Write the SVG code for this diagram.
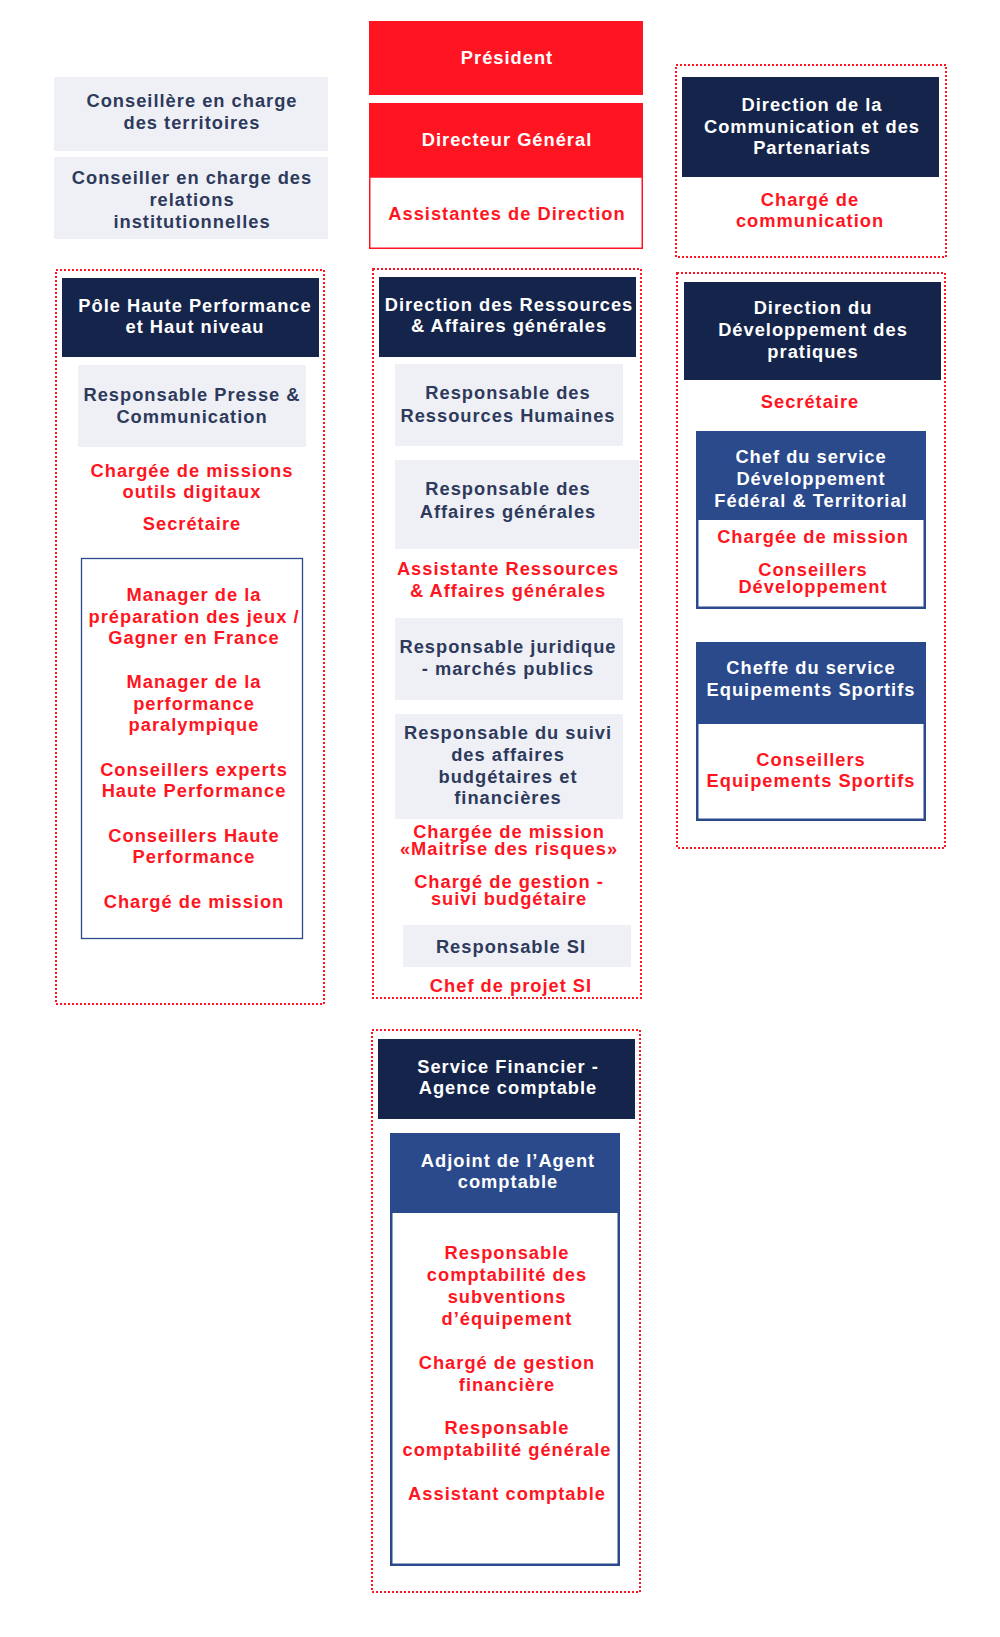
<svg xmlns="http://www.w3.org/2000/svg" width="1000" height="1637" viewBox="0 0 1000 1637">
<style>
.t{font-family:"Liberation Sans",Arial,Helvetica,sans-serif;font-weight:bold;font-size:18.3px;letter-spacing:1px;text-anchor:middle}
.w{fill:#ffffff}.r{fill:#ff1522}.g{fill:#2d3a5c}
.navy{fill:#15244b}.blue{fill:#2a4a8c}.gray{fill:#eff0f5}.red{fill:#ff1522}
.dot{fill:none;stroke:#ff1522;stroke-width:2;stroke-dasharray:2 2}
.bbox{fill:#ffffff;stroke:#2a4a8c;stroke-width:2.5}
.thin{fill:#ffffff;stroke:#2a4a8c;stroke-width:1.3}
</style>
<rect width="1000" height="1637" fill="#ffffff"/>

<g id="conseillere-territoires">
<rect class="gray" x="54" y="77" width="274" height="74"/>
<text class="t g" x="192" y="107">Conseillère en charge</text>
<text class="t g" x="192" y="129">des territoires</text>
</g>
<g id="conseiller-relations">
<rect class="gray" x="54" y="157" width="274" height="82"/>
<text class="t g" x="192" y="184">Conseiller en charge des</text>
<text class="t g" x="192" y="206">relations</text>
<text class="t g" x="192" y="228">institutionnelles</text>
</g>

<g id="president">
<rect class="red" x="369" y="21" width="274" height="74"/>
<text class="t w" x="507" y="64">Président</text>
</g>
<g id="directeur-general">
<rect class="red" x="369" y="103" width="274" height="74"/>
<text class="t w" x="507" y="146">Directeur Général</text>
<rect x="369.75" y="177" width="272.5" height="71.25" fill="#ffffff" stroke="#ff1522" stroke-width="1.5"/>
<text class="t r" x="507" y="220">Assistantes de Direction</text>
</g>

<g id="direction-communication">
<rect class="dot" x="676" y="65" width="270" height="192"/>
<rect class="navy" x="682" y="77" width="257" height="100"/>
<text class="t w" x="812" y="111">Direction de la</text>
<text class="t w" x="812" y="133">Communication et des</text>
<text class="t w" x="812" y="154">Partenariats</text>
<text class="t r" x="810" y="206">Chargé de</text>
<text class="t r" x="810" y="227">communication</text>
</g>

<g id="pole-haute-performance">
<rect class="dot" x="56" y="270" width="268" height="734"/>
<rect class="navy" x="62" y="278" width="257" height="79"/>
<text class="t w" x="195" y="312">Pôle Haute Performance</text>
<text class="t w" x="195" y="333">et Haut niveau</text>
<rect class="gray" x="78" y="365" width="228" height="82"/>
<text class="t g" x="192" y="401">Responsable Presse &amp;</text>
<text class="t g" x="192" y="423">Communication</text>
<text class="t r" x="192" y="477">Chargée de missions</text>
<text class="t r" x="192" y="498">outils digitaux</text>
<text class="t r" x="192" y="530">Secrétaire</text>
<rect class="thin" x="81.5" y="558.5" width="221" height="380"/>
<text class="t r" x="194" y="601">Manager de la</text>
<text class="t r" x="194" y="623">préparation des jeux /</text>
<text class="t r" x="194" y="644">Gagner en France</text>
<text class="t r" x="194" y="688">Manager de la</text>
<text class="t r" x="194" y="710">performance</text>
<text class="t r" x="194" y="731">paralympique</text>
<text class="t r" x="194" y="776">Conseillers experts</text>
<text class="t r" x="194" y="797">Haute Performance</text>
<text class="t r" x="194" y="842">Conseillers Haute</text>
<text class="t r" x="194" y="863">Performance</text>
<text class="t r" x="194" y="908">Chargé de mission</text>
</g>

<g id="direction-ressources">
<rect class="dot" x="373" y="269" width="268" height="729"/>
<rect class="navy" x="379" y="277" width="257" height="80"/>
<text class="t w" x="509" y="311">Direction des Ressources</text>
<text class="t w" x="509" y="332">&amp; Affaires générales</text>
<rect class="gray" x="395" y="364" width="228" height="82"/>
<text class="t g" x="508" y="399">Responsable des</text>
<text class="t g" x="508" y="422">Ressources Humaines</text>
<rect class="gray" x="395" y="460" width="244" height="89"/>
<text class="t g" x="508" y="495">Responsable des</text>
<text class="t g" x="508" y="518">Affaires générales</text>
<text class="t r" x="508" y="575">Assistante Ressources</text>
<text class="t r" x="508" y="597">&amp; Affaires générales</text>
<rect class="gray" x="395" y="618" width="228" height="82"/>
<text class="t g" x="508" y="653">Responsable juridique</text>
<text class="t g" x="508" y="675">- marchés publics</text>
<rect class="gray" x="395" y="714" width="228" height="105"/>
<text class="t g" x="508" y="739">Responsable du suivi</text>
<text class="t g" x="508" y="761">des affaires</text>
<text class="t g" x="508" y="783">budgétaires et</text>
<text class="t g" x="508" y="804">financières</text>
<text class="t r" x="509" y="838">Chargée de mission</text>
<text class="t r" x="509" y="855">«Maitrise des risques»</text>
<text class="t r" x="509" y="888">Chargé de gestion -</text>
<text class="t r" x="509" y="905">suivi budgétaire</text>
<rect class="gray" x="403" y="925" width="228" height="42"/>
<text class="t g" x="511" y="953">Responsable SI</text>
<text class="t r" x="511" y="992">Chef de projet SI</text>
</g>

<g id="direction-developpement">
<rect class="dot" x="677" y="273" width="268" height="575"/>
<rect class="navy" x="684" y="282" width="257" height="98"/>
<text class="t w" x="813" y="314">Direction du</text>
<text class="t w" x="813" y="336">Développement des</text>
<text class="t w" x="813" y="358">pratiques</text>
<text class="t r" x="810" y="408">Secrétaire</text>
</g>
<g id="chef-service-developpement">
<rect class="bbox" x="697.25" y="432.25" width="227.5" height="175.5"/>
<rect class="blue" x="696" y="431" width="230" height="89"/>
<text class="t w" x="811" y="463">Chef du service</text>
<text class="t w" x="811" y="485">Développement</text>
<text class="t w" x="811" y="507">Fédéral &amp; Territorial</text>
<text class="t r" x="813" y="543">Chargée de mission</text>
<text class="t r" x="813" y="576">Conseillers</text>
<text class="t r" x="813" y="593">Développement</text>
</g>
<g id="cheffe-service-equipements">
<rect class="bbox" x="697.25" y="643.25" width="227.5" height="176.5"/>
<rect class="blue" x="696" y="642" width="230" height="82"/>
<text class="t w" x="811" y="674">Cheffe du service</text>
<text class="t w" x="811" y="696">Equipements Sportifs</text>
<text class="t r" x="811" y="766">Conseillers</text>
<text class="t r" x="811" y="787">Equipements Sportifs</text>
</g>

<g id="service-financier">
<rect class="dot" x="372" y="1030" width="268" height="562"/>
<rect class="navy" x="378" y="1039" width="257" height="80"/>
<text class="t w" x="508" y="1073">Service Financier -</text>
<text class="t w" x="508" y="1094">Agence comptable</text>
</g>
<g id="adjoint-agent-comptable">
<rect class="bbox" x="391.25" y="1134.25" width="227.5" height="430.5"/>
<rect class="blue" x="390" y="1133" width="230" height="80"/>
<text class="t w" x="508" y="1167">Adjoint de l’Agent</text>
<text class="t w" x="508" y="1188">comptable</text>
<text class="t r" x="507" y="1259">Responsable</text>
<text class="t r" x="507" y="1281">comptabilité des</text>
<text class="t r" x="507" y="1303">subventions</text>
<text class="t r" x="507" y="1325">d’équipement</text>
<text class="t r" x="507" y="1369">Chargé de gestion</text>
<text class="t r" x="507" y="1391">financière</text>
<text class="t r" x="507" y="1434">Responsable</text>
<text class="t r" x="507" y="1456">comptabilité générale</text>
<text class="t r" x="507" y="1500">Assistant comptable</text>
</g>

<g id="connectors"></g>
</svg>
